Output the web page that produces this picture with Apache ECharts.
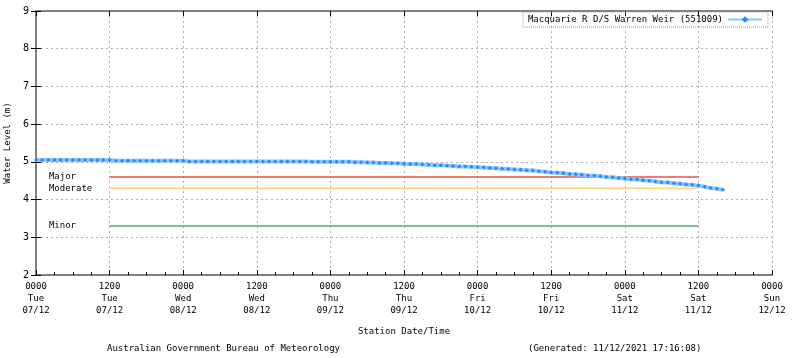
<!DOCTYPE html>
<html><head><meta charset="utf-8">
<script src="https://cdn.jsdelivr.net/npm/echarts/dist/echarts.min.js"></script>
<style>html,body{margin:0;padding:0;background:#fff}#c{width:800px;height:358px}</style>
</head><body><div id="c"></div>
<script>
// Hourly readings, hour 0 = 0000 Tue 07/12/2021
const seriesName = 'Macquarie R D/S Warren Weir (551009)';
const levels = [
  5.05,5.05,5.05,5.05,5.05,5.05,5.05,5.05,5.05,5.05,5.05,5.05,5.05,
  5.03,5.03,5.03,5.03,5.03,5.03,5.03,5.03,5.03,5.03,5.03,5.03,
  5.01,5.01,5.01,5.01,5.01,5.01,5.01,5.01,5.01,5.01,5.01,5.01,5.01,5.01,5.01,5.01,5.01,5.01,5.01,5.01,
  5.00,5.00,5.00,5.00,5.00,5.00,5.00,
  4.99,4.99,4.98,4.98,4.97,4.97,4.96,4.96,4.95,
  4.94,4.94,4.93,4.92,4.91,4.91,4.90,4.89,4.88,4.88,4.87,4.86,
  4.85,4.84,4.83,4.82,4.81,4.80,4.79,4.78,4.77,4.75,4.74,4.72,
  4.71,4.70,4.68,4.67,4.66,4.64,4.63,4.62,4.60,4.59,4.57,4.56,
  4.54,4.53,4.51,4.50,4.48,4.46,4.45,4.43,4.42,4.40,4.39,4.37,
  4.34,4.31,4.29,4.26
];
const tickLabels = [
  '0000\nTue\n07/12','1200\nTue\n07/12','0000\nWed\n08/12','1200\nWed\n08/12',
  '0000\nThu\n09/12','1200\nThu\n09/12','0000\nFri\n10/12','1200\nFri\n10/12',
  '0000\nSat\n11/12','1200\nSat\n11/12','0000\nSun\n12/12'
];
const thresholdNames = ['Major','Moderate','Minor'];
const thresholdValues = [4.6, 4.3, 3.3];
const thresholdColors = ['#e8504a','#ffd27f','#4caf72'];
const thresholdStartHour = 12;
const thresholdEndHour = 108;
const labelHour = 1.7;

const FONT = 'DejaVu Sans Mono';
const chart = echarts.init(document.getElementById('c'), null, {renderer:'canvas'});

const series = [];
thresholdValues.forEach((v, i) => {
  series.push({
    type:'line', name: thresholdNames[i], silent:true, symbol:'none',
    data: [[thresholdStartHour, v],[thresholdEndHour, v]],
    lineStyle:{color: thresholdColors[i], width: 1.6},
    z: 2
  });
});
series.push({
  type:'scatter', name:'labels', silent:true, symbolSize:1,
  itemStyle:{opacity:0},
  data: thresholdValues.map((v,i)=>({value:[labelHour, v], name: thresholdNames[i]})),
  label:{show:true, position:'right', distance:2, formatter:p=>p.name,
    fontFamily:FONT, fontSize:9, color:'#000', opacity:1},
  z: 3
});
series.push({
  type:'line', name: seriesName,
  data: levels.map((v,i)=>[i, v]),
  symbol:'diamond', symbolSize:4, showAllSymbol:true,
  lineStyle:{color:'#8cc4ff', width:4},
  itemStyle:{color:'#1e88ff'},
  z: 5
});

chart.setOption({
  animation:false,
  backgroundColor:'#fff',
  textStyle:{fontFamily:FONT},
  grid:{left:36, right:28, top:11, bottom:83, containLabel:false, outerBoundsMode:'none'},
  legend:{
    data:[seriesName], right:32, top:12, align:'right',
    itemWidth:34, itemHeight:8, itemGap:4,
    padding:[3,5], borderColor:'#999', borderWidth:1, borderType:'dotted',
    textStyle:{fontFamily:FONT, fontSize:9, color:'#000'}
  },
  xAxis:[{
    type:'value', min:0, max:120, interval:12,
    name:'Station Date/Time', nameLocation:'middle', nameGap:52,
    nameTextStyle:{fontFamily:FONT, fontSize:9, color:'#000'},
    axisLine:{lineStyle:{color:'#808080', width:2}},
    axisTick:{inside:true, length:5, lineStyle:{color:'#000'}},
    minorTick:{show:true, splitNumber:4, length:3, lineStyle:{color:'#000'}},
    axisLabel:{formatter:v=>tickLabels[Math.round(v/12)], fontFamily:FONT, fontSize:9, color:'#000', lineHeight:12, margin:6},
    splitLine:{show:true, lineStyle:{color:'#b0b0b0', type:[2,3], width:1}}
  },{
    type:'value', min:0, max:120, interval:12, position:'top',
    axisLine:{show:true, lineStyle:{color:'#808080', width:2}},
    axisTick:{show:true, inside:true, length:5, lineStyle:{color:'#000'}},
    axisLabel:{show:false}, splitLine:{show:false}
  }],
  yAxis:[{
    type:'value', min:2, max:9, interval:1,
    name:'Water Level (m)', nameLocation:'middle', nameGap:23,
    nameTextStyle:{fontFamily:FONT, fontSize:9, color:'#000'},
    axisLine:{show:true, lineStyle:{color:'#808080', width:2}},
    axisTick:{show:true, inside:true, length:5, lineStyle:{color:'#000'}},
    axisLabel:{fontFamily:FONT, fontSize:10, color:'#000', margin:7},
    splitLine:{show:true, lineStyle:{color:'#b0b0b0', type:[2,3], width:1}}
  },{
    type:'value', min:2, max:9, interval:1, position:'right',
    axisLine:{show:true, lineStyle:{color:'#808080', width:2}},
    axisTick:{show:true, inside:true, length:5, lineStyle:{color:'#000'}},
    axisLabel:{show:false}, splitLine:{show:false}
  }],
  graphic:[
    {type:'text', left:107, top:344, style:{text:'Australian Government Bureau of Meteorology', font:'9px "DejaVu Sans Mono"', fill:'#000'}},
    {type:'text', left:528, top:344, style:{text:'(Generated: 11/12/2021 17:16:08)', font:'9px "DejaVu Sans Mono"', fill:'#000'}}
  ],
  series: series
});
</script></body></html>
